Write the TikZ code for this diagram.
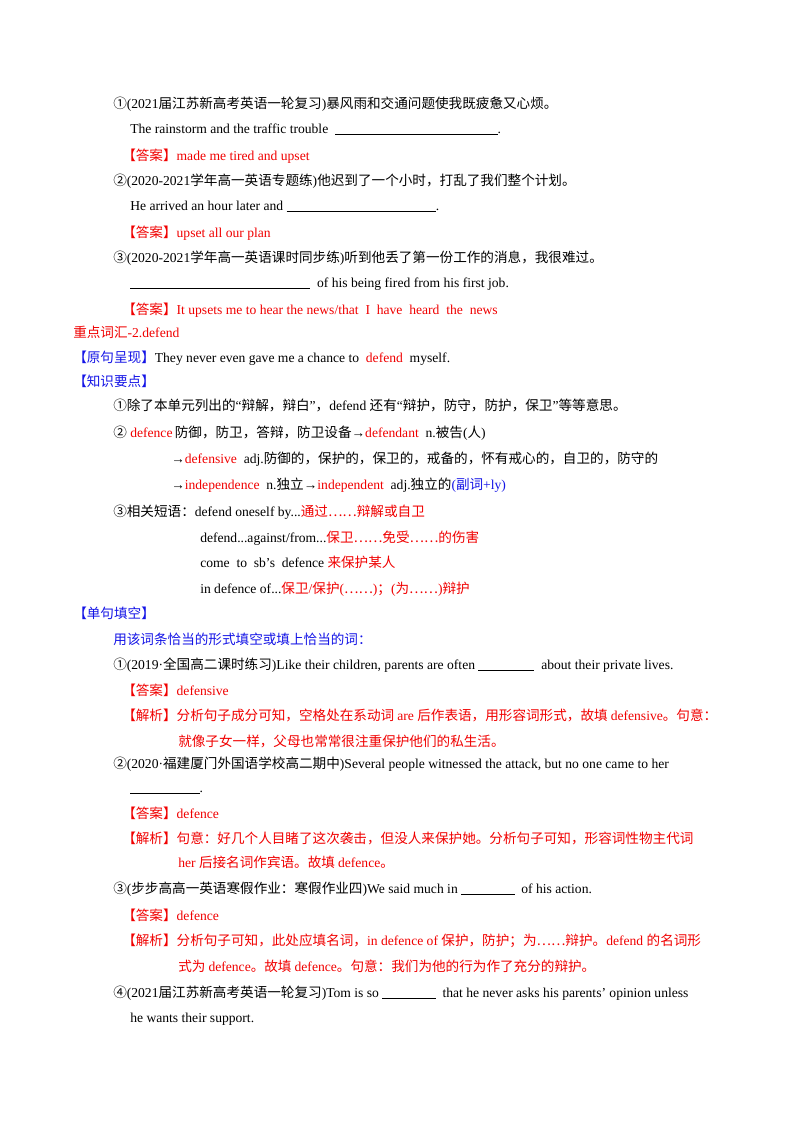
\documentclass[tikz,border=0pt]{standalone}
\usepackage{fontspec}
\setmainfont{Liberation Serif}
\newfontfamily\cjk{Noto Sans CJK SC}
\newfontfamily\lat{Liberation Serif}
\newXeTeXintercharclass\cjkcls
\newcount\cc
\def\setcls#1#2{\cc=#1 \loop\XeTeXcharclass\cc=\cjkcls \advance\cc 1 \ifnum\cc<#2 \repeat}
\setcls{"4E00}{"A000}
\setcls{"3000}{"3040}
\setcls{"FF00}{"FFF0}
\setcls{"2460}{"2500}
\XeTeXcharclass"2026=\cjkcls
\XeTeXinterchartoks 0 \cjkcls = {\cjk}
\XeTeXinterchartoks 4095 \cjkcls = {\cjk}
\XeTeXinterchartoks \cjkcls 0 = {\lat}
\XeTeXinterchartoks 4095 0 = {\lat}
\XeTeXinterchartokenstate=1
\definecolor{ared}{RGB}{240,0,0}
\definecolor{ablue}{RGB}{20,20,230}
\newcommand\blank[1]{\rule[-1.5pt]{#1}{0.4pt}}
\newcommand\R[1]{\textcolor{ared}{#1}}
\newcommand\B[1]{\textcolor{ablue}{#1}}
\begin{document}
\begin{tikzpicture}[x=0.75pt,y=-0.75pt,t/.style={anchor=base west,inner sep=0pt,font=\fontsize{10.2}{12}\selectfont}]
\useasboundingbox (0,0) rectangle (800,1132);
\node[t] (l1) at (113,108) {①(2021届江苏新高考英语一轮复习)暴风雨和交通问题使我既疲惫又心烦。};
\node[t] (l2) at (130,133) {The rainstorm and the traffic trouble \ \blank{122pt}.};
\node[t] (l3) at (122,160) {\R{【答案】made me tired and upset}};
\node[t] (l4) at (113,185) {②(2020-2021学年高一英语专题练)他迟到了一个小时，打乱了我们整个计划。};
\node[t] (l5) at (130,210) {He arrived an hour later and \blank{112pt}.};
\node[t] (l6) at (122,237) {\R{【答案】upset all our plan}};
\node[t] (l7) at (113,262) {③(2020-2021学年高一英语课时同步练)听到他丢了第一份工作的消息，我很难过。};
\node[t] (l8) at (130,287) {\blank{135pt}\ \ of his being fired from his first job.};
\node[t] (l9) at (122,314) {\R{【答案】It upsets me to hear the news/that\ \ I\ \ have\ \ heard\ \ the\ \ news}};
\node[t] (l10) at (73,337) {\R{重点词汇-2.defend}};
\node[t] (l11) at (73,362) {\B{【原句呈现】}They never even gave me a chance to \ \R{defend}\ \ myself.};
\node[t] (l12) at (73,386) {\B{【知识要点】}};
\node[t] (l13) at (113,410) {①除了本单元列出的“辩解，辩白”，defend 还有“辩护，防守，防护，保卫”等等意思。};
\node[t] (l14) at (113,437) {②\lat\ \R{defence}\,防御，防卫，答辩，防卫设备→\R{defendant}\ \ n.被告(人)};
\node[t] (l15) at (171,463) {→\R{defensive}\ \ adj.防御的，保护的，保卫的，戒备的，怀有戒心的，自卫的，防守的};
\node[t] (l16) at (171,489) {→\R{independence}\ \ n.独立→\R{independent}\ \ adj.独立的\B{(副词+ly)}};
\node[t] (l17) at (113,516) {③相关短语：defend oneself by...\R{通过……辩解或自卫}};
\node[t] (l18) at (200,542) {defend...against/from...\R{保卫……免受……的伤害}};
\node[t] (l19) at (200,567) {come\ \ to\ \ sb’s\ \ defence \R{来保护某人}};
\node[t] (l20) at (200,593) {in defence of...\R{保卫/保护(……)；(为……)辩护}};
\node[t] (l21) at (73,618) {\B{【单句填空】}};
\node[t] (l22) at (113,644) {\B{用该词条恰当的形式填空或填上恰当的词：}};
\node[t] (l23) at (113,669) {①(2019·全国高二课时练习)Like their children, parents are often \blank{42pt}\ \ about their private lives.};
\node[t] (l24) at (122,695) {\R{【答案】defensive}};
\node[t] (l25) at (122,720) {\R{【解析】分析句子成分可知，空格处在系动词 are 后作表语，用形容词形式，故填 defensive。句意：}};
\node[t] (l26) at (178,746) {\R{就像子女一样，父母也常常很注重保护他们的私生活。}};
\node[t] (l27) at (113,768) {②(2020·福建厦门外国语学校高二期中)Several people witnessed the attack, but no one came to her};
\node[t] (l28) at (130,792) {\blank{52pt}.};
\node[t] (l29) at (122,818) {\R{【答案】defence}};
\node[t] (l30) at (122,843) {\R{【解析】句意：好几个人目睹了这次袭击，但没人来保护她。分析句子可知，形容词性物主代词}};
\node[t] (l31) at (178,867) {\R{her 后接名词作宾语。故填 defence。}};
\node[t] (l32) at (113,893) {③(步步高高一英语寒假作业：寒假作业四)We said much in \blank{40pt}\ \ of his action.};
\node[t] (l33) at (122,920) {\R{【答案】defence}};
\node[t] (l34) at (122,945) {\R{【解析】分析句子可知，此处应填名词，in defence of 保护，防护；为……辩护。defend 的名词形}};
\node[t] (l35) at (178,971) {\R{式为 defence。故填 defence。句意：我们为他的行为作了充分的辩护。}};
\node[t] (l36) at (113,997) {④(2021届江苏新高考英语一轮复习)Tom is so \blank{40pt}\ \ that he never asks his parents’ opinion unless};
\node[t] (l37) at (130,1022) {he wants their support.};
\end{tikzpicture}
\end{document}
